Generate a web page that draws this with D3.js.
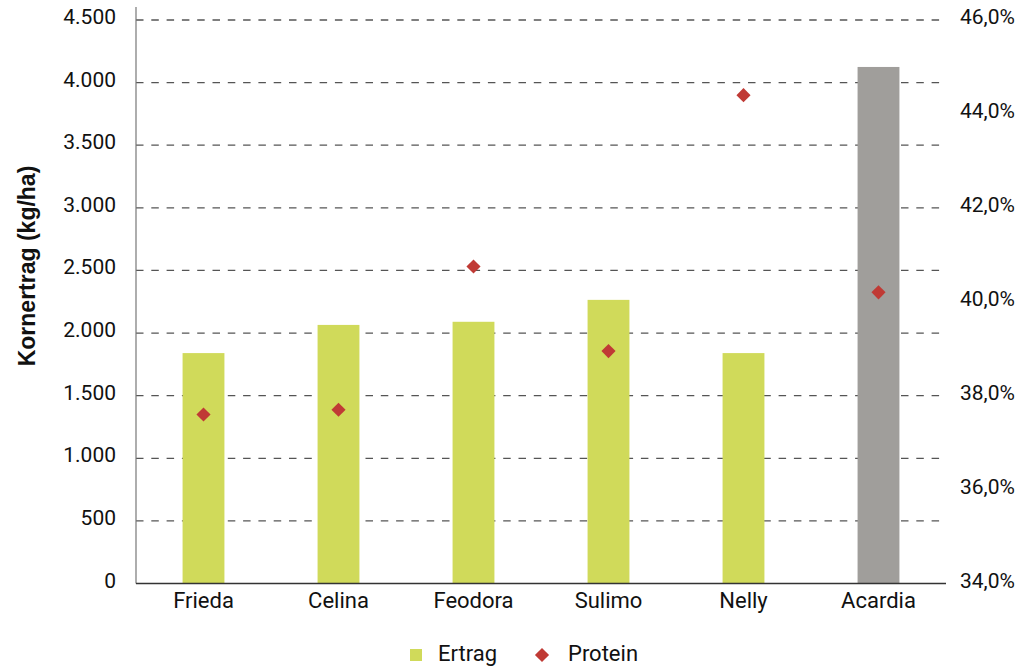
<!DOCTYPE html>
<html>
<head>
<meta charset="utf-8">
<script src="https://cdn.jsdelivr.net/npm/d3@7"></script>
<style>
  body { margin: 0; background: #fff; }
  text { font-family: Roboto, "Noto Sans", sans-serif; fill: #111; }
</style>
</head>
<body>
<div id="chart"></div>
<script>
// data
var categories = ["Frieda", "Celina", "Feodora", "Sulimo", "Nelly", "Acardia"];
var ertrag = [1840, 2065, 2090, 2265, 1840, 4125];
var protein = [37.6, 37.7, 40.75, 38.95, 44.4, 40.2];
var leftTicks = [0, 500, 1000, 1500, 2000, 2500, 3000, 3500, 4000, 4500];
var rightTicks = [34, 36, 38, 40, 42, 44, 46];
var compareVariety = "Acardia";

function init() {
    var w = 1030;
    var h = 666;
    var left = 136, right = 946, top = 20, bottom = 583.5;

    var de = d3.formatLocale({decimal: ",", thousands: ".", grouping: [3], currency: ["", "€"]});
    var fmtLeft = de.format(",d");
    var fmtRight = function(d) { return de.format(".1f")(d) + "%"; };

    var xScale = d3.scaleBand()
                .domain(categories)
                .range([left, right])
                .paddingInner(0.69)
                .paddingOuter(0.345);

    var yScale = d3.scaleLinear()
                .domain([0, 4500])
                .range([bottom, top]);

    var y2Scale = d3.scaleLinear()
                .domain([34, 46])
                .range([bottom, top]);

    var svg = d3.select("#chart")
                .append("svg")
                .attr("width", w)
                .attr("height", h);

    // gridlines
    svg.append("g")
        .selectAll("line")
        .data(leftTicks.filter(function(d) { return d > 0; }))
        .enter()
        .append("line")
        .attr("x1", left)
        .attr("x2", right)
        .attr("y1", function(d) { return yScale(d); })
        .attr("y2", function(d) { return yScale(d); })
        .attr("stroke", "#555")
        .attr("stroke-width", 1.3)
        .attr("stroke-dasharray", "7.5,7.8");

    // bars
    svg.selectAll("rect.bar")
        .data(ertrag)
        .enter()
        .append("rect")
        .attr("class", "bar")
        .attr("x", function(d, i) { return xScale(categories[i]); })
        .attr("y", function(d) { return yScale(d); })
        .attr("width", xScale.bandwidth())
        .attr("height", function(d) { return bottom - yScale(d); })
        .attr("fill", function(d, i) {
            return categories[i] === compareVariety ? "#a09e9b" : "#d0da5a";
        });

    // left axis line
    svg.append("line")
        .attr("x1", left).attr("x2", left)
        .attr("y1", 7).attr("y2", bottom)
        .attr("stroke", "#777")
        .attr("stroke-width", 1.2);

    // baseline
    svg.append("line")
        .attr("x1", left).attr("x2", right)
        .attr("y1", bottom).attr("y2", bottom)
        .attr("stroke", "#333")
        .attr("stroke-width", 1.3);

    // diamonds
    var diamond = d3.symbol().type(d3.symbolSquare).size(100);
    svg.selectAll("path.protein")
        .data(protein)
        .enter()
        .append("path")
        .attr("class", "protein")
        .attr("d", diamond)
        .attr("transform", function(d, i) {
            return "translate(" + (xScale(categories[i]) + xScale.bandwidth() / 2) + "," + y2Scale(d) + ") rotate(45)";
        })
        .attr("fill", "#c03a35");

    // left tick labels
    svg.append("g")
        .selectAll("text")
        .data(leftTicks)
        .enter()
        .append("text")
        .attr("x", 116)
        .attr("y", function(d) { return yScale(d) + 4; })
        .attr("text-anchor", "end")
        .attr("font-size", 21)
        .text(fmtLeft);

    // right tick labels
    svg.append("g")
        .selectAll("text")
        .data(rightTicks)
        .enter()
        .append("text")
        .attr("x", 960)
        .attr("y", function(d) { return y2Scale(d) + 4; })
        .attr("font-size", 21)
        .text(fmtRight);

    // category labels
    svg.append("g")
        .selectAll("text")
        .data(categories)
        .enter()
        .append("text")
        .attr("x", function(d) { return xScale(d) + xScale.bandwidth() / 2; })
        .attr("y", 608)
        .attr("text-anchor", "middle")
        .attr("font-size", 22)
        .text(function(d) { return d; });

    // y axis title
    svg.append("text")
        .attr("transform", "translate(35,266) rotate(-90)")
        .attr("text-anchor", "middle")
        .attr("font-family", "'Liberation Sans', Arial, sans-serif")
        .attr("font-weight", "bold")
        .attr("font-size", 23)
        .style("font-family", "'Liberation Sans', Arial, sans-serif")
        .text("Kornertrag (kg/ha)");

    // legend
    var legend = svg.append("g");
    legend.append("rect")
        .attr("x", 410).attr("y", 649)
        .attr("width", 12).attr("height", 12)
        .attr("fill", "#d0da5a");
    legend.append("text")
        .attr("x", 438).attr("y", 661)
        .attr("font-size", 22)
        .text("Ertrag");
    legend.append("path")
        .attr("d", diamond)
        .attr("transform", "translate(542,655) rotate(45)")
        .attr("fill", "#c03a35");
    legend.append("text")
        .attr("x", 568).attr("y", 661)
        .attr("font-size", 22)
        .text("Protein");
}

window.onload = init;
</script>
</body>
</html>
